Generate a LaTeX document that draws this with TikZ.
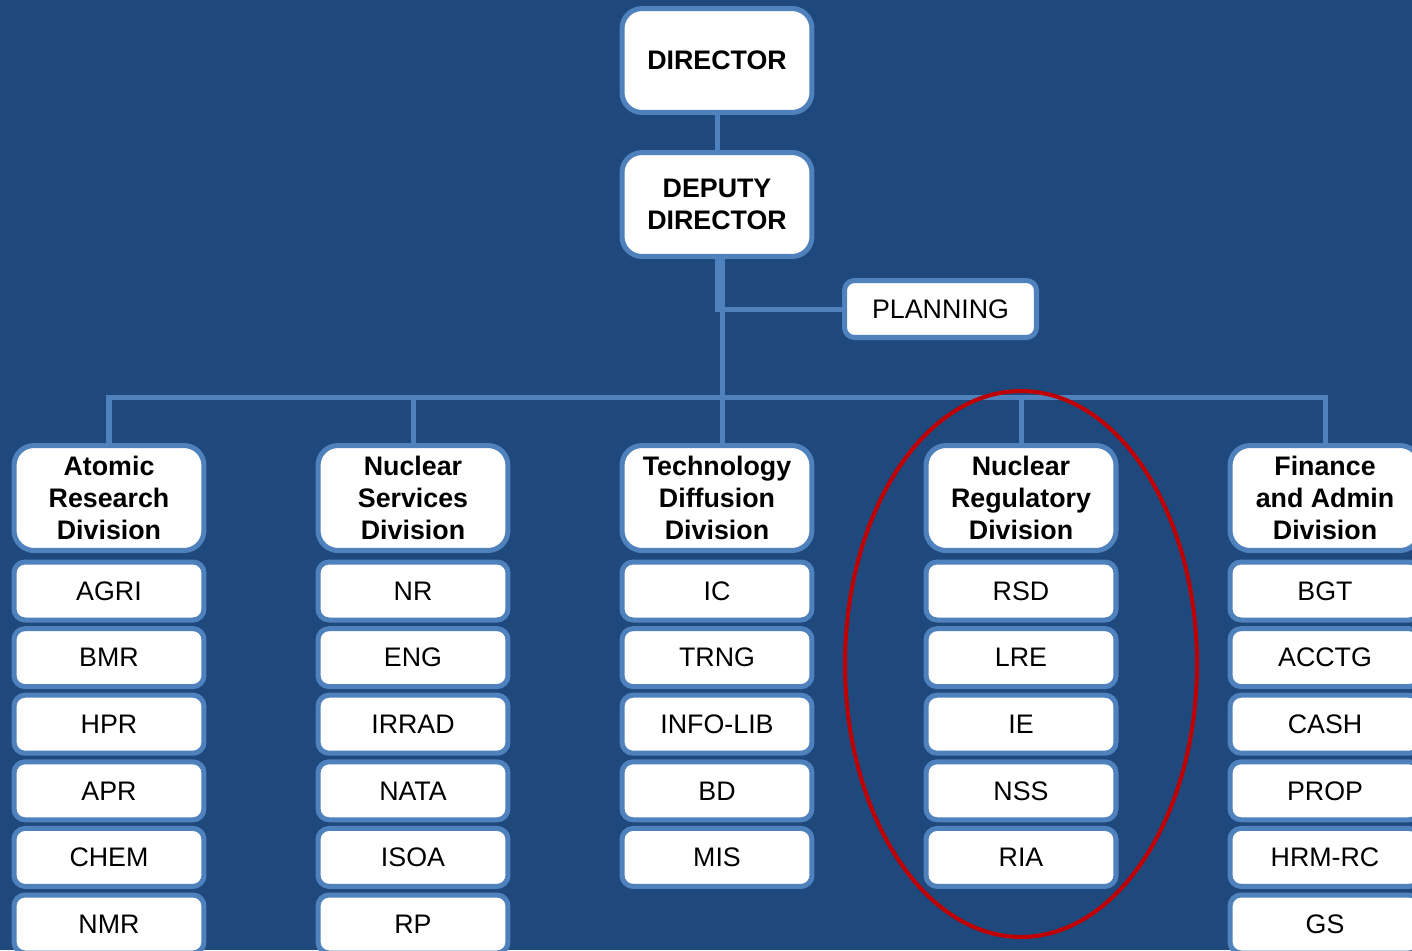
\documentclass[tikz,border=0pt]{standalone}
\usepackage{fontspec}
\setmainfont{Liberation Sans}
\usetikzlibrary{positioning,calc}
\definecolor{orgBg}{RGB}{31,73,125}
\definecolor{orgLine}{RGB}{79,129,189}
\definecolor{orgRed}{RGB}{192,0,0}

\begin{document}
\begin{tikzpicture}[x=0.02cm, y=-0.02cm,
  font=\fontsize{15.25}{18.2}\selectfont,
  box/.style={draw=orgLine, line width=2.85pt, fill=white, align=center,
    minimum width=3.8cm, inner sep=0pt},
  head/.style={box, rounded corners=0.4cm, minimum height=2.08cm,
    font=\fontsize{15.25}{18.2}\selectfont\bfseries},
  divbox/.style={box, rounded corners=0.4cm, minimum height=2.1cm,
    font=\fontsize{15.25}{18.2}\selectfont\bfseries},
  unit/.style={box, rounded corners=0.22cm, minimum height=1.16cm},
  link/.style={draw=orgLine, line width=2.85pt}]
% page and background
\useasboundingbox (0,0) rectangle (1412,950);
\clip (0,0) rectangle (1412,950);
\fill[orgBg] (0,0) rectangle (1412,950);

% top of the chart
\node[head] (dir) at (717,60.5) {DIRECTOR};
\node[head] (dep) at (717,204.5) {DEPUTY\\DIRECTOR};
\node[unit, minimum width=3.84cm, minimum height=1.14cm, rounded corners=0.2cm] (plan) at (940.5,309) {PLANNING};
\coordinate (bus) at (722,397);

% divisions
\foreach \i/\x/\name in {1/109/Atomic\\Research\\Division, 2/413/Nuclear\\Services\\Division,
    3/717/Technology\\Diffusion\\Division, 4/1021/Nuclear\\Regulatory\\Division,
    5/1325/Finance\\and Admin\\Division}{
  \node[divbox] (div\i) at (\x,498) {\name};
}

% sections under each division
\foreach \i/\list in {1/{AGRI,BMR,HPR,APR,CHEM,NMR}, 2/{NR,ENG,IRRAD,NATA,ISOA,RP},
    3/{IC,TRNG,INFO-LIB,BD,MIS}, 4/{RSD,LRE,IE,NSS,RIA},
    5/{BGT,ACCTG,CASH,PROP,HRM-RC,GS}}{
  \foreach \u [count=\k] in \list{
    \node[unit] (u\i\k) at ($(div\i.center)+(0,93+66.6*\k-66.6)$) {\u};
  }
}

% connectors
\draw[link] (dir.south) -- (dep.north);
\draw[link] (dep.south) |- (plan.west);
\draw[link] (dep.south -| bus) -- (div3.north -| bus);
\draw[link] (div1.north) |- (bus) -| (div5.north);
\draw[link] (div2.north) -- (div2.north |- bus);
\draw[link] (div4.north) -- (div4.north |- bus);

% highlight
\draw[orgRed, line width=2.3pt] (1021,664) ellipse [x radius=3.52cm, y radius=5.46cm];
\end{tikzpicture}
\end{document}
